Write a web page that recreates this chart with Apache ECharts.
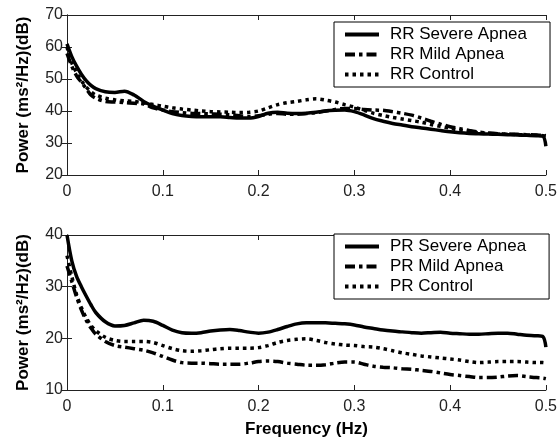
<!DOCTYPE html>
<html>
<head>
<meta charset="utf-8">
<script src="https://cdn.jsdelivr.net/npm/echarts@6/dist/echarts.min.js"></script>
<style>html,body{margin:0;padding:0;background:#fff}#c{width:560px;height:439px}</style>
</head>
<body>
<div id="c"></div>
<script>
var freq = [0,0.005,0.01,0.015,0.02,0.025,0.03,0.04,0.05,0.06,0.07,0.08,0.09,0.1,0.11,0.12,0.13,0.14,0.15,0.16,0.17,0.18,0.19,0.2,0.21,0.22,0.23,0.24,0.25,0.26,0.27,0.28,0.29,0.3,0.31,0.32,0.33,0.34,0.35,0.36,0.37,0.38,0.39,0.4,0.41,0.42,0.43,0.44,0.45,0.46,0.47,0.48,0.49,0.497,0.5];

var rrSevere = [61,57,54,51.5,49.5,48,47,46,45.8,46.2,45,43,41.5,40.3,39.2,38.6,38.3,38.2,38.2,38.2,38,37.8,37.8,38.3,39.3,39.6,39.3,39.2,39.3,39.6,40,40.2,40.3,39.8,38.8,37.6,36.8,36.1,35.6,35.1,34.7,34.3,33.9,33.5,33.2,33,32.9,32.8,32.7,32.6,32.5,32.4,32.3,32.1,29];
var rrMild = [58,54,51,49,47,45,44,43,42.8,42.6,42.4,42.2,41,40.3,39.8,39.5,39.3,39.2,39.1,39,38.8,38.5,38.3,38.5,39,39.2,39,39,39.2,39.5,40,40.5,40.8,40.8,40.5,40.3,40.2,39.8,39.3,38.7,37.8,36.8,35.9,35.1,34.5,33.9,33.4,33.1,32.9,32.8,32.7,32.6,32.5,32.4,32.3];
var rrControl = [60,55,52,49.5,47.5,46,45,44,43.5,43.2,43,42.5,42,41.5,41,40.6,40.3,40,39.8,39.7,39.6,39.5,39.6,40,41,42,42.6,43,43.5,43.8,43.4,42.8,42,41.2,40.2,39.3,38.6,38,37.5,37,36.5,35.8,35.2,34.6,34,33.5,33.2,33,32.8,32.7,32.6,32.5,32.4,32.3,32.2];

var prSevere = [40,35,32,30,28.2,26.5,25,23.2,22.4,22.5,23,23.5,23.3,22.5,21.6,21.1,21,21.1,21.4,21.6,21.7,21.5,21.2,21,21.2,21.7,22.3,22.8,23,23,23,22.9,22.8,22.6,22.2,21.9,21.6,21.4,21.25,21.1,21,21.1,21.2,21,20.9,20.8,20.8,20.9,21,21,20.8,20.6,20.5,20.3,18.3];
var prMild = [34,31,28,25.5,23.5,22,20.8,19.4,18.6,18.3,18,17.7,17.2,16.5,15.8,15.3,15.2,15.2,15.1,15,15,15,15.2,15.5,15.6,15.5,15.2,15,14.8,14.8,14.9,15.2,15.4,15.4,15,14.6,14.4,14.3,14.1,14,13.8,13.6,13.3,13,12.8,12.6,12.4,12.4,12.5,12.7,12.8,12.6,12.4,12.3,12.2];
var prControl = [36,32,28.5,26,24,22.5,21.5,20.2,19.6,19.4,19.4,19.4,19.2,18.6,18,17.6,17.5,17.6,17.8,18,18.1,18.1,18.1,18.2,18.6,19.2,19.6,19.8,19.9,19.6,19.2,18.9,18.7,18.6,18.4,18.3,18,17.6,17.2,16.9,16.6,16.4,16.2,16,15.8,15.5,15.3,15.4,15.5,15.5,15.5,15.4,15.3,15.3,15.2];

var rrYRange = [20, 70];
var prYRange = [10, 40];
var yLabel = 'Power (ms\u00B2/Hz)(dB)';
var xLabel = 'Frequency (Hz)';

function pairs(v){ return freq.map(function(f,i){ return [f, v[i]]; }); }

var FONT = "'Liberation Sans', Arial, sans-serif";
var AX = '#222';
var W = 3.5;
var styles = {
  solid: {color:'#000', width:W, type:'solid', cap:'butt'},
  dashdot: {color:'#000', width:W, type:[10,4,3.5,4], cap:'butt'},
  dot: {color:'#000', width:W, type:[3.5,4], cap:'butt'}
};

function xAxes(gi, bottom){
  return [
    {gridIndex:gi, type:'value', min:0, max:0.5, interval:0.1, position:'bottom',
     axisLine:{lineStyle:{color:AX,width:1}}, axisTick:{inside:true,length:5,lineStyle:{color:AX}},
     axisLabel:{color:'#222', fontFamily:FONT, fontSize:16, margin:9},
     splitLine:{show:false},
     name: bottom ? xLabel : '', nameLocation:'middle', nameGap:31,
     nameTextStyle:{fontFamily:FONT, fontWeight:'bold', fontSize:17, color:'#000'}},
    {gridIndex:gi, type:'value', min:0, max:0.5, interval:0.1, position:'top',
     axisLine:{lineStyle:{color:AX,width:1}}, axisTick:{inside:true,length:5,lineStyle:{color:AX}},
     axisLabel:{show:false}, splitLine:{show:false}}
  ];
}
function yAxes(gi, rng){
  return [
    {gridIndex:gi, type:'value', min:rng[0], max:rng[1], interval:10, position:'left',
     axisLine:{show:true,lineStyle:{color:AX,width:1}}, axisTick:{show:true,inside:true,length:5,lineStyle:{color:AX}},
     axisLabel:{color:'#222', fontFamily:FONT, fontSize:16, margin:4},
     splitLine:{show:false},
     name:yLabel, nameLocation:'middle', nameGap:35, nameRotate:90,
     nameTextStyle:{fontFamily:FONT, fontWeight:'bold', fontSize:17, color:'#000'}},
    {gridIndex:gi, type:'value', min:rng[0], max:rng[1], interval:10, position:'right',
     axisLine:{show:true,lineStyle:{color:AX,width:1}}, axisTick:{show:true,inside:true,length:5,lineStyle:{color:AX}},
     axisLabel:{show:false}, splitLine:{show:false}}
  ];
}

function line(name, data, xi, yi, st){
  return {name:name, type:'line', xAxisIndex:xi, yAxisIndex:yi, data:pairs(data),
    showSymbol:false, symbol:'none', smooth:0.3, lineStyle:st, itemStyle:{color:'#000'},
    emphasis:{disabled:true}, animation:false};
}

function legend(top, names){
  return {left:334, top:top, orient:'vertical', data:names,
    backgroundColor:'#fff', borderColor:'#000', borderWidth:1,
    padding:[4,23,4,9], itemGap:3, itemWidth:34, itemHeight:14,
    itemStyle:{opacity:0}, lineStyle:{width:4},
    textStyle:{fontFamily:FONT, fontSize:17, color:'#000', padding:[0,0,0,6]}};
}

var chart = echarts.init(document.getElementById('c'), null, {renderer:'canvas'});
chart.setOption({
  animation:false,
  grid:[
    {left:67, top:15, width:483, height:160},
    {left:67, top:235, width:483, height:160}
  ],
  xAxis: xAxes(0,false).concat(xAxes(1,true)),
  yAxis: yAxes(0, rrYRange).concat(yAxes(1, prYRange)),
  legend:[
    legend(22, ['RR Severe Apnea','RR Mild Apnea','RR Control']),
    legend(234, ['PR Severe Apnea','PR Mild Apnea','PR Control'])
  ],
  series:[
    line('RR Severe Apnea', rrSevere, 0, 0, styles.solid),
    line('RR Mild Apnea', rrMild, 0, 0, styles.dashdot),
    line('RR Control', rrControl, 0, 0, styles.dot),
    line('PR Severe Apnea', prSevere, 2, 2, styles.solid),
    line('PR Mild Apnea', prMild, 2, 2, styles.dashdot),
    line('PR Control', prControl, 2, 2, styles.dot)
  ]
});
</script>
</body>
</html>
